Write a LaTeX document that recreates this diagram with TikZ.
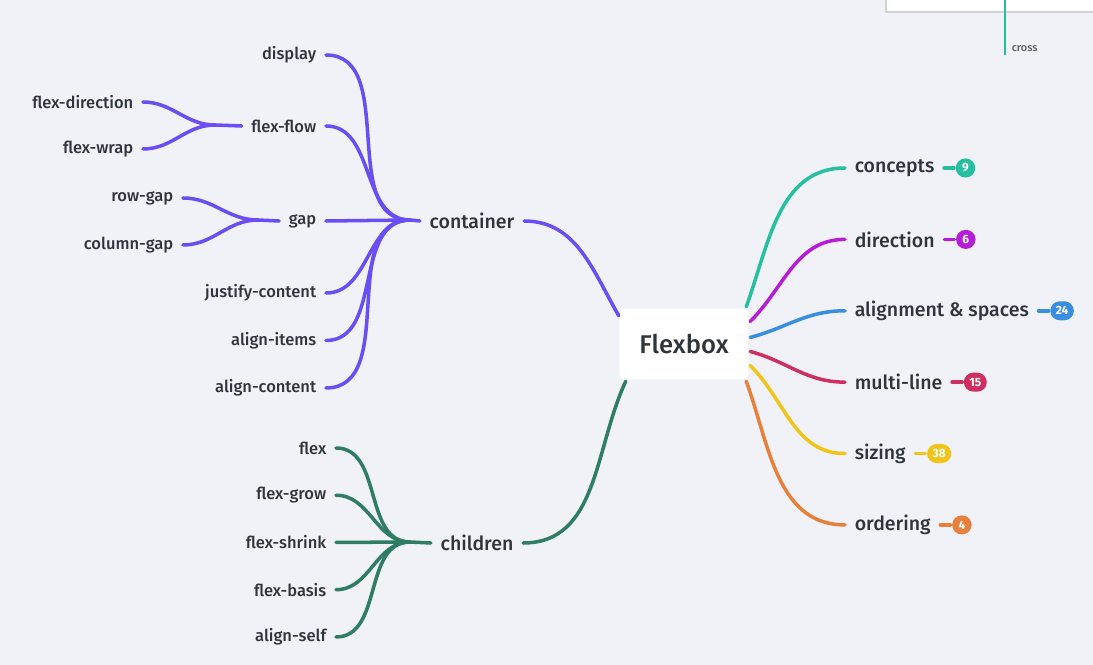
\documentclass[tikz,border=0pt]{standalone}
\usepackage{fontspec}
\setmainfont{Fira Sans}[UprightFont=* Medium, BoldFont=* Bold]
\usetikzlibrary{positioning}

\definecolor{bgcol}{HTML}{F0F2F8}
\definecolor{ink}{HTML}{30343B}
\definecolor{violetc}{HTML}{6A4DF4}
\definecolor{greenc}{HTML}{2E7D64}
\definecolor{tealc}{HTML}{26BFA0}
\definecolor{magentac}{HTML}{B51DD6}
\definecolor{bluec}{HTML}{3A8EE0}
\definecolor{crimsonc}{HTML}{CF2F5E}
\definecolor{yellowc}{HTML}{F0C419}
\definecolor{orangec}{HTML}{E6803A}

\begin{document}
\begin{tikzpicture}[%
x=0.02cm, y=-0.02cm,
line width=2pt,
line cap=round,
leaf/.style={text=ink, font=\fontsize{9.4}{11}\selectfont, inner xsep=0.16cm, inner ysep=1pt},
topic/.style={text=ink, font=\fontsize{11.1}{13}\selectfont, inner xsep=0.16cm, inner ysep=1pt},
root/.style={rectangle, fill=white, rounded corners=0.1cm, minimum width=2.58cm,
  minimum height=1.42cm, text=ink, font=\fontsize{14.6}{17}\selectfont},
badge/.style={rectangle, rounded corners=0.19cm, minimum width=0.39cm, minimum height=0.38cm,
  inner xsep=0.11cm, inner ysep=0pt, text=white, font=\fontsize{6.8}{7}\selectfont\bfseries},
branch/.style={out=180, in=0}
]
\clip (0,0) rectangle (1093,665);
\fill[bgcol] (0,0) rectangle (1093,665);

% corner of the next sheet
\draw[line width=0.8pt, draw=gray!35, fill=white] (886,-10) rectangle (1110,12);
\draw[tealc, line width=1.4pt, line cap=butt] (1005,0) -- (1005,55);
\node[anchor=south west, inner sep=0pt, text=ink!80, font=\fontsize{6.2}{7}\selectfont] (cross) at (1010,53) {cross};

\node[root] (flexbox) at (684,344) {Flexbox};

% left: container
\node[topic] (container) at (472,221) {container};
\coordinate (hubc) at (410,220);
\node[leaf, anchor=east] (display) at (326,55) {display};
\node[leaf, anchor=east] (flexflow) at (326,126) {flex-flow};
\node[leaf, anchor=east] (gap) at (326,221) {gap};
\node[leaf, anchor=east] (justify) at (326,293) {justify-content};
\node[leaf, below=0.95cm of justify.east, anchor=east] (alignitems) {align-items};
\node[leaf, below=0.95cm of alignitems.east, anchor=east] (aligncontent) {align-content};

\coordinate (hubf) at (215,125);
\node[leaf, anchor=east] (flexdir) at (143,102) {flex-direction};
\node[leaf, below=0.94cm of flexdir.east, anchor=east] (flexwrap) {flex-wrap};
\coordinate (hubg) at (258,220);
\node[leaf, anchor=east] (rowgap) at (183,198) {row-gap};
\node[leaf, below=0.94cm of rowgap.east, anchor=east] (columngap) {column-gap};

\path[violetc] ([xshift=0.02cm, yshift=-0.18cm]flexbox.north west) edge [out=120, in=0] (container.east);
\path[violetc] (hubc) edge (container.west);
\path[violetc] (hubc) edge [branch] (display.east);
\path[violetc] (hubc) edge [branch] (flexflow.east);
\path[violetc] (hubc) edge (gap.east);
\path[violetc] (hubc) edge [branch] (justify.east);
\path[violetc] (hubc) edge [branch] (alignitems.east);
\path[violetc] (hubc) edge [branch] (aligncontent.east);
\path[violetc] (hubf) edge (flexflow.west);
\path[violetc] (hubf) edge [branch] (flexdir.east);
\path[violetc] (hubf) edge [branch] (flexwrap.east);
\path[violetc] (hubg) edge (gap.west);
\path[violetc] (hubg) edge [branch] (rowgap.east);
\path[violetc] (hubg) edge [branch] (columngap.east);

% left: children
\node[topic] (children) at (477,543) {children};
\coordinate (hubk) at (410,542);
\node[leaf, anchor=east] (flex) at (336,448) {flex};
\node[leaf, below=0.945cm of flex.east, anchor=east] (flexgrow) {flex-grow};
\node[leaf, below=0.945cm of flexgrow.east, anchor=east] (flexshrink) {flex-shrink};
\node[leaf, below=0.945cm of flexshrink.east, anchor=east] (flexbasis) {flex-basis};
\node[leaf, below=0.945cm of flexbasis.east, anchor=east] (alignself) {align-self};

\path[greenc] ([xshift=0.16cm]flexbox.south west) edge [out=-115, in=0] (children.east);
\path[greenc] (hubk) edge (children.west);
\path[greenc] (hubk) edge [branch] (flex.east);
\path[greenc] (hubk) edge [branch] (flexgrow.east);
\path[greenc] (hubk) edge (flexshrink.east);
\path[greenc] (hubk) edge [branch] (flexbasis.east);
\path[greenc] (hubk) edge [branch] (alignself.east);

% right: topics with counts
\node[topic, anchor=west] (concepts) at (845,168) {concepts};
\node[topic, below=1.428cm of concepts.west, anchor=west] (direction) {direction};
\node[topic, below=1.428cm of direction.west, anchor=west] (alignment) {alignment \& spaces};
\node[topic, below=1.428cm of alignment.west, anchor=west] (multiline) {multi-line};
\node[topic, below=1.428cm of multiline.west, anchor=west] (sizing) {sizing};
\node[topic, below=1.428cm of sizing.west, anchor=west] (ordering) {ordering};

\node[badge, fill=tealc, right=0.2cm of concepts] (nconcepts) {9};
\node[badge, fill=magentac, right=0.2cm of direction] (ndirection) {6};
\node[badge, fill=bluec, right=0.2cm of alignment] (nalignment) {24};
\node[badge, fill=crimsonc, right=0.2cm of multiline] (nmultiline) {15};
\node[badge, fill=yellowc, right=0.2cm of sizing] (nsizing) {38};
\node[badge, fill=orangec, right=0.2cm of ordering] (nordering) {4};

\path[tealc] ([xshift=-0.08cm]flexbox.north east) edge [out=70, in=180] (concepts.west);
\path[magentac] ([yshift=0.45cm]flexbox.east) edge [out=45, in=180] (direction.west);
\path[bluec] ([yshift=0.13cm]flexbox.east) edge [out=15, in=180] (alignment.west);
\path[crimsonc] ([yshift=-0.15cm]flexbox.east) edge [out=-15, in=180] (multiline.west);
\path[yellowc] ([yshift=-0.43cm]flexbox.east) edge [out=-45, in=180] (sizing.west);
\path[orangec] ([xshift=-0.08cm]flexbox.south east) edge [out=-70, in=180] (ordering.west);

\path[tealc] (concepts) edge (nconcepts);
\path[magentac] (direction) edge (ndirection);
\path[bluec] (alignment) edge (nalignment);
\path[crimsonc] (multiline) edge (nmultiline);
\path[yellowc] (sizing) edge (nsizing);
\path[orangec] (ordering) edge (nordering);

\end{tikzpicture}
\end{document}
